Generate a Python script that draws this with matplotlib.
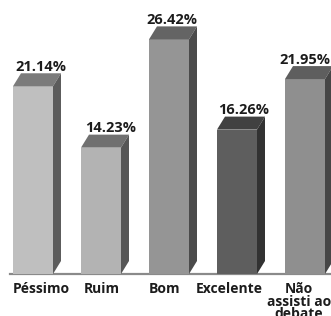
'''
avaliacao do debate - barras 3d em tons de cinza
'''

import matplotlib
matplotlib.use('Agg')
from matplotlib import pyplot as plt
from matplotlib.patches import Polygon
import numpy as np

categories = ['Péssimo', 'Ruim', 'Bom', 'Excelente', 'Não\nassisti ao\ndebate']
values = [21.14, 14.23, 26.42, 16.26, 21.95]
value_labels = ['21.14%', '14.23%', '26.42%', '16.26%', '21.95%']

front_colors = ['#bfbfbf', '#b3b3b3', '#959595', '#5e5e5e', '#8f8f8f']
top_colors = ['#7b7b7b', '#707070', '#646464', '#414141', '#5e5e5e']
side_colors = ['#5c5c5c', '#565656', '#4b4b4b', '#323232', '#464646']

W, H = 331, 316
px_per_unit_x = 68.0
px_per_unit_y = 8.88
base_px = 274           # baseline, pixels from top
first_px = 33           # centre of first front face

fig = plt.figure(figsize=(W / 100, H / 100), dpi=100)
ax = fig.add_axes([0, (H - base_px) / H, 1, base_px / H])
ax.set_xlim(-first_px / px_per_unit_x, (W - first_px) / px_per_unit_x)
ax.set_ylim(0, base_px / px_per_unit_y)
ax.axis('off')

x = np.arange(len(values))
w = 40 / px_per_unit_x
dx = 8 / px_per_unit_x
dy = 13 / px_per_unit_y

ax.bar(x, values, width=w, color=front_colors, zorder=3)

for xi, v, ct, cs in zip(x, values, top_colors, side_colors):
    l, r = xi - w / 2, xi + w / 2
    ax.add_patch(Polygon([(l, v), (l + dx, v + dy), (r + dx, v + dy), (r, v)],
                         closed=True, facecolor=ct, edgecolor='none', zorder=3))
    ax.add_patch(Polygon([(r, 0), (r + dx, dy), (r + dx, v + dy), (r, v)],
                         closed=True, facecolor=cs, edgecolor='none', zorder=3))

txt = dict(family=['Open Sans', 'DejaVu Sans'], weight='bold', color='#1c1c1c')

# value labels, hand-placed a little right of the front face as in the print
value_shift_px = [7.5, 10, 3, 7, 0]
for xi, v, lab, s in zip(x, values, value_labels, value_shift_px):
    ax.text(xi + s / px_per_unit_x, v + dy + 2.5 / px_per_unit_y, lab,
            ha='center', va='baseline', fontsize=10.5, zorder=4, **txt)

# baseline
ax.axhline(0, xmin=10 / W, xmax=1, color='#8a8a8a', lw=1.6, clip_on=False, zorder=2)

# category labels below the baseline, one text per line
label_shift_px = [8, 1, -4, -8, -6]
line_step = 12.5
for xi, cat, s in zip(x, categories, label_shift_px):
    for k, line in enumerate(cat.split('\n')):
        ax.text(xi + s / px_per_unit_x, -(19 + k * line_step) / px_per_unit_y, line,
                ha='center', va='baseline', fontsize=10, clip_on=False, **txt)

fig.savefig('out.png', dpi=100)
